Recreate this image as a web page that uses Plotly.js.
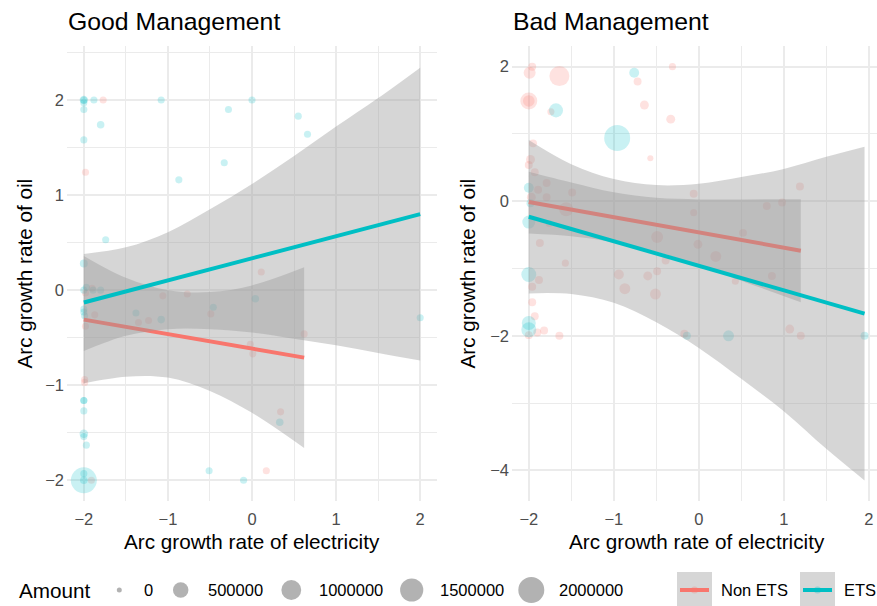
<!DOCTYPE html>
<html><head><meta charset="utf-8">
<script src="https://cdn.plot.ly/plotly-3.0.1.min.js"></script>
<style>html,body{margin:0;padding:0;background:#fff}</style>
</head><body><div id="chart" style="width:877px;height:606px"></div>
<script>
// ---------- DATA ----------
// Good Management – Non ETS
const goodNonEtsX = [-1.77,-1.98,0.11,-1.9,-1.98,-1.87,-1.98,-1.35,-1.23,-1.06,-0.77,-0.49,-0.02,0.01,0.62,-1.99,-1.99,0.34,0.17,-1.91];
const goodNonEtsY = [2.0,1.24,0.19,0.02,-0.03,-0.26,-0.38,-0.34,-0.32,-0.06,-0.04,-0.25,-0.57,-0.67,-0.46,-0.94,-0.97,-1.28,-1.9,-2.0];
const goodNonEtsAmt = [20000,20000,20000,20000,20000,20000,20000,20000,20000,20000,20000,20000,20000,20000,20000,20000,20000,20000,20000,20000];
// Good Management – ETS
const goodEtsX = [-2,-2,-2,-2,-1.88,-1.08,-0.28,0,0.55,0.66,-1.8,-2,-0.33,-0.87,-1.74,-2,-2,-1.97,-1.89,-1.8,-2,-2,-1.99,-1.38,-1.08,-0.46,0.04,2.0,-2,-2,-2,-2,-2,-1.97,0.33,-0.51,-0.1,-2,-2,-2];
const goodEtsY = [2.0,2.0,1.97,1.9,2.0,2.0,1.9,2.0,1.83,1.64,1.74,1.58,1.34,1.16,0.53,0.28,0.0,0.03,0.0,0.0,-0.2,-0.23,-0.27,-0.24,-0.31,-0.18,-0.09,-0.29,-1.16,-1.16,-1.27,-1.51,-1.54,-1.63,-1.39,-1.9,-2.0,-2.0,-1.93,-2.0];
const goodEtsAmt = [20000,50000,20000,20000,20000,20000,20000,20000,20000,20000,30000,20000,20000,20000,20000,40000,20000,20000,20000,20000,20000,20000,20000,20000,30000,20000,30000,20000,20000,20000,20000,60000,20000,20000,30000,20000,20000,2000000,20000,30000];
// Bad Management – Non ETS
const badNonEtsX = [-1.96,-1.99,-1.64,-0.72,-0.31,-2,-2,-1.74,-0.64,-0.33,-0.57,-1.95,-1.98,-2,-1.93,-1.79,-1.89,-1.79,-1.49,-1.97,-1.56,-1.76,-1.87,-1.57,-1.88,-0.94,-0.6,-0.49,-0.49,-0.06,-0.06,-0.01,0.2,-0.39,0.52,0.8,0.98,1.19,0.43,0.86,-0.87,-0.51,-1.96,-1.96,-1.93,-1.9,-1.82,-2.0,-1.64,-0.17,1.07,1.2];
const badNonEtsY = [2.0,1.91,1.86,1.78,2.0,1.49,1.49,1.33,1.43,1.22,0.64,0.86,0.62,0.54,0.43,0.27,0.17,0.06,0.13,0.06,-0.12,-0.33,-0.62,-0.92,-1.17,-1.09,-1.11,-1.04,-0.53,0.11,-0.17,-0.64,-0.82,-0.88,-0.47,-0.07,-0.02,0.22,-1.19,-1.11,-1.3,-1.38,-1.27,-1.5,-1.71,-1.95,-1.92,-1.99,-2.0,-1.97,-1.9,-2.0];
const badNonEtsAmt = [40000,220000,1020000,40000,20000,650000,200000,20000,70000,70000,5000,40000,70000,40000,40000,40000,40000,40000,40000,70000,370000,20000,40000,20000,40000,110000,70000,40000,220000,40000,20000,70000,160000,40000,40000,40000,40000,40000,20000,40000,160000,160000,40000,40000,40000,40000,40000,40000,40000,40000,70000,40000];
// Bad Management – ETS
const badEtsX = [-0.76,-1.68,-0.96,-2,-1.98,-2,-2,-2,-2,-0.14,0.35,1.95];
const badEtsY = [1.91,1.35,0.94,0.2,-0.03,-0.31,-1.09,-1.81,-1.91,-2.0,-2.0,-2.0];
const badEtsAmt = [110000,370000,2000000,110000,40000,290000,450000,370000,450000,40000,160000,40000];

// Linear fits
const goodNonEtsFitX = [-2, 0.62], goodNonEtsFitY = [-0.31, -0.71];
const goodEtsFitX = [-2, 2], goodEtsFitY = [-0.13, 0.80];
const badNonEtsFitX = [-2, 1.2], badNonEtsFitY = [-0.01, -0.735];
const badEtsFitX = [-2, 1.95], badEtsFitY = [-0.23, -1.67];

// Confidence bands
const goodNonEtsBandX = [-2,-1.5,-1,-0.5,0,0.62];
const goodNonEtsBandHi = [0.36,0.13,0.0,-0.02,0.05,0.24];
const goodNonEtsBandLo = [-0.98,-0.91,-0.92,-1.06,-1.29,-1.66];
const goodEtsBandX = [-2,-1.5,-1,-0.5,0,0.5,1,1.5,2];
const goodEtsBandHi = [0.38,0.45,0.61,0.85,1.115,1.41,1.72,2.02,2.34];
const goodEtsBandLo = [-0.64,-0.48,-0.41,-0.41,-0.445,-0.51,-0.58,-0.66,-0.74];
const badNonEtsBandX = [-2,-1.5,-1,-0.5,0,0.5,1.2];
const badNonEtsBandHi = [0.44,0.28,0.134,0.05,0.027,0.027,0.03];
const badNonEtsBandLo = [-0.48,-0.52,-0.61,-0.75,-0.95,-1.18,-1.5];
const badEtsBandX = [-2,-1.5,-1,-0.5,0,0.5,1,1.5,1.95];
const badEtsBandHi = [0.91,0.55,0.33,0.24,0.26,0.36,0.48,0.66,0.81];
const badEtsBandLo = [-1.37,-1.38,-1.51,-1.80,-2.18,-2.64,-3.12,-3.68,-4.15];

// Legend
const sizeBreaks = [0, 500000, 1000000, 1500000, 2000000];
const sizeBreakLabels = ['0','500000','1000000','1500000','2000000'];
const groupNames = ['Non ETS','ETS'];

// ---------- STYLE ----------
const W = 877, H = 606;
const RED = '#F8766D', CYAN = '#00BFC4';
const FONT = 'Liberation Sans, Arial, sans-serif';
function sizeFor(a){ return 5 + 21*Math.sqrt(a/2000000); }
const px = v => v/W, py = v => 1 - v/H;

function pts(x,y,a,col,xa,ya){
  return {type:'scatter',mode:'markers',x:x,y:y,xaxis:xa,yaxis:ya,hoverinfo:'skip',
    marker:{size:a.map(sizeFor),sizemode:'diameter',color:col,line:{width:0}}};
}
function band(x,lo,hi,xa,ya){
  return [
    {type:'scatter',mode:'lines',x:x,y:lo,xaxis:xa,yaxis:ya,hoverinfo:'skip',line:{width:0,shape:'spline',color:'rgba(0,0,0,0)'}},
    {type:'scatter',mode:'lines',x:x,y:hi,xaxis:xa,yaxis:ya,hoverinfo:'skip',fill:'tonexty',fillcolor:'rgba(153,153,153,0.4)',line:{width:0,shape:'spline',color:'rgba(0,0,0,0)'}}
  ];
}
function fit(x,y,col,xa,ya){
  return {type:'scatter',mode:'lines',x:x,y:y,xaxis:xa,yaxis:ya,hoverinfo:'skip',line:{width:4,color:col}};
}
const redA='rgba(248,118,109,0.3)', cyanA='rgba(0,191,196,0.3)';
const data = [
  pts(goodNonEtsX,goodNonEtsY,goodNonEtsAmt,redA,'x','y'),
  pts(goodEtsX,goodEtsY,goodEtsAmt,cyanA,'x','y'),
  ...band(goodNonEtsBandX,goodNonEtsBandLo,goodNonEtsBandHi,'x','y'),
  fit(goodNonEtsFitX,goodNonEtsFitY,RED,'x','y'),
  ...band(goodEtsBandX,goodEtsBandLo,goodEtsBandHi,'x','y'),
  fit(goodEtsFitX,goodEtsFitY,CYAN,'x','y'),
  pts(badNonEtsX,badNonEtsY,badNonEtsAmt,redA,'x2','y2'),
  pts(badEtsX,badEtsY,badEtsAmt,cyanA,'x2','y2'),
  ...band(badNonEtsBandX,badNonEtsBandLo,badNonEtsBandHi,'x2','y2'),
  fit(badNonEtsFitX,badNonEtsFitY,RED,'x2','y2'),
  ...band(badEtsBandX,badEtsBandLo,badEtsBandHi,'x2','y2'),
  fit(badEtsFitX,badEtsFitY,CYAN,'x2','y2')
];

const tickFont = {family:FONT,size:16.5,color:'#4D4D4D'};
function ax(extra){
  return Object.assign({showline:false,zeroline:false,ticks:'',showgrid:true,gridcolor:'#EBEBEB',gridwidth:2,
    tickfont:tickFont,fixedrange:true},extra);
}
const yDom = [105/H, 560/H];
const layout = {
  width:W,height:H,margin:{l:0,r:0,t:0,b:0},paper_bgcolor:'#fff',plot_bgcolor:'rgba(0,0,0,0)',showlegend:false,
  font:{family:FONT},
  xaxis: ax({domain:[67/W,437/W],range:[-2.2,2.2],tickvals:[-2,-1,0,1,2],ticklabelstandoff:6,
    minor:{dtick:0.5,tick0:0,showgrid:true,gridcolor:'#EBEBEB',gridwidth:1}}),
  yaxis: ax({domain:yDom,range:[-2.2175,2.5675],anchor:'x',tickvals:[-2,-1,0,1,2],ticklabelstandoff:2,
    minor:{dtick:0.5,tick0:0,showgrid:true,gridcolor:'#EBEBEB',gridwidth:1}}),
  xaxis2: ax({domain:[512/W,1],range:[-2.1975,2.0966],anchor:'y2',tickvals:[-2,-1,0,1,2],ticklabelstandoff:6,
    minor:{dtick:0.5,tick0:0,showgrid:true,gridcolor:'#EBEBEB',gridwidth:1}}),
  yaxis2: ax({domain:yDom,range:[-4.455,2.307],anchor:'x2',tickvals:[-4,-2,0,2],ticklabelstandoff:2,
    minor:{dtick:1,tick0:0,showgrid:true,gridcolor:'#EBEBEB',gridwidth:1}}),
  annotations:[],
  shapes:[]
};
const A = layout.annotations, S = layout.shapes;
function txt(t,x,y,size,opts){ A.push(Object.assign({text:t,x:px(x),y:py(y),xref:'paper',yref:'paper',showarrow:false,
  xanchor:'left',yanchor:'middle',font:{family:FONT,size:size,color:'#000'}},opts||{})); }
txt('Good Management',66,22,24.8);
txt('Bad Management',511,22,24.8);
txt('Arc growth rate of electricity',252,541,20.7,{xanchor:'center'});
txt('Arc growth rate of electricity',696.5,541,20.7,{xanchor:'center'});
txt('Arc growth rate of oil',24,273.5,20.7,{xanchor:'center',textangle:-90});
txt('Arc growth rate of oil',467,273.5,20.7,{xanchor:'center',textangle:-90});
txt('Amount',17,590,20.7);
// size legend
const sizeKeyX = [119.3,180.7,291.3,411.7,531.3];
const sizeLabelX = [142,206,317,438,557];
sizeBreaks.forEach((b,i)=>{
  const r = sizeFor(b)/2, cx = sizeKeyX[i], cy = 590;
  S.push({type:'circle',xref:'paper',yref:'paper',x0:px(cx-r),x1:px(cx+r),y0:py(cy+r),y1:py(cy-r),
    fillcolor:'rgba(0,0,0,0.3)',line:{width:0}});
  txt(sizeBreakLabels[i],sizeLabelX[i],590,16.5);
});
// colour legend
const keyX0 = [677,800], keyCols=[RED,CYAN], keyColsA=[redA,cyanA], keyLabelX=[719,842];
groupNames.forEach((g,i)=>{
  const x0 = keyX0[i], x1 = x0+35;
  S.push({type:'rect',xref:'paper',yref:'paper',x0:px(x0),x1:px(x1),y0:py(607),y1:py(572),fillcolor:'rgba(153,153,153,0.4)',line:{width:0}});
  S.push({type:'line',xref:'paper',yref:'paper',x0:px(x0+3),x1:px(x1-3),y0:py(590),y1:py(590),line:{color:keyCols[i],width:4}});
  S.push({type:'circle',xref:'paper',yref:'paper',x0:px(x0+17.5-3.5),x1:px(x0+17.5+3.5),y0:py(593.5),y1:py(586.5),fillcolor:keyColsA[i],line:{width:0}});
  txt(g,keyLabelX[i],590,16.5);
});
Plotly.newPlot('chart',data,layout,{staticPlot:true,displayModeBar:false});
</script></body></html>
